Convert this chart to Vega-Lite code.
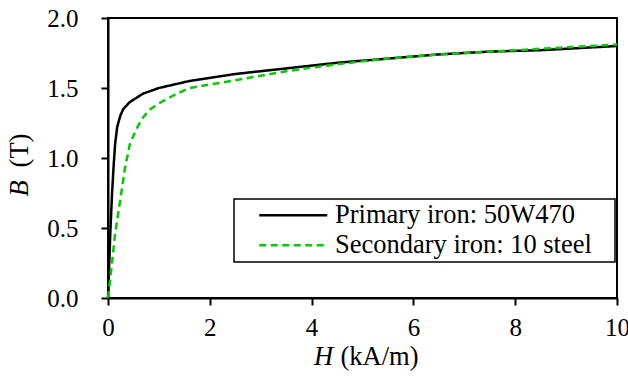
{
  "$schema": "https://vega.github.io/schema/vega-lite/v6.json",
  "width": 509,
  "height": 280,
  "autosize": {"type": "none"},
  "padding": {"left": 108, "top": 18, "right": 11, "bottom": 79},
  "background": "white",
  "config": {
    "view": {"stroke": "black", "strokeWidth": 2},
    "font": "Times New Roman",
    "axis": {
      "domainColor": "black",
      "domainWidth": 2,
      "tickColor": "black",
      "tickWidth": 2,
      "tickSize": 7,
      "grid": false,
      "labelFlush": false,
      "labelOverlap": false,
      "labelFont": "Times New Roman",
      "labelFontSize": 25,
      "labelColor": "black",
      "titleFont": "Times New Roman",
      "titleFontSize": 26.5,
      "titleFontWeight": "normal",
      "titleColor": "black"
    },
    "legend": {
      "labelFont": "Times New Roman",
      "labelFontSize": 26.5,
      "labelColor": "black",
      "labelLimit": 500
    }
  },
  "data": {
    "values": [
      {"series": "Primary iron: 50W470", "H": 0, "B": 0},
      {"series": "Primary iron: 50W470", "H": 0.02, "B": 0.2},
      {"series": "Primary iron: 50W470", "H": 0.045, "B": 0.46},
      {"series": "Primary iron: 50W470", "H": 0.08, "B": 0.75},
      {"series": "Primary iron: 50W470", "H": 0.11, "B": 0.94},
      {"series": "Primary iron: 50W470", "H": 0.14, "B": 1.1},
      {"series": "Primary iron: 50W470", "H": 0.18, "B": 1.22},
      {"series": "Primary iron: 50W470", "H": 0.24, "B": 1.3},
      {"series": "Primary iron: 50W470", "H": 0.3, "B": 1.35},
      {"series": "Primary iron: 50W470", "H": 0.43, "B": 1.4},
      {"series": "Primary iron: 50W470", "H": 0.69, "B": 1.46},
      {"series": "Primary iron: 50W470", "H": 1.0, "B": 1.5},
      {"series": "Primary iron: 50W470", "H": 1.6, "B": 1.55},
      {"series": "Primary iron: 50W470", "H": 2.5, "B": 1.6},
      {"series": "Primary iron: 50W470", "H": 3.5, "B": 1.64},
      {"series": "Primary iron: 50W470", "H": 4.5, "B": 1.68},
      {"series": "Primary iron: 50W470", "H": 5.5, "B": 1.71},
      {"series": "Primary iron: 50W470", "H": 6.5, "B": 1.74},
      {"series": "Primary iron: 50W470", "H": 7.5, "B": 1.76},
      {"series": "Primary iron: 50W470", "H": 8.5, "B": 1.77},
      {"series": "Primary iron: 50W470", "H": 10, "B": 1.8},
      {"series": "Secondary iron: 10 steel", "H": 0, "B": 0},
      {"series": "Secondary iron: 10 steel", "H": 0.07, "B": 0.22},
      {"series": "Secondary iron: 10 steel", "H": 0.14, "B": 0.46},
      {"series": "Secondary iron: 10 steel", "H": 0.24, "B": 0.7},
      {"series": "Secondary iron: 10 steel", "H": 0.33, "B": 0.92},
      {"series": "Secondary iron: 10 steel", "H": 0.43, "B": 1.1},
      {"series": "Secondary iron: 10 steel", "H": 0.55, "B": 1.2},
      {"series": "Secondary iron: 10 steel", "H": 0.65, "B": 1.27},
      {"series": "Secondary iron: 10 steel", "H": 0.8, "B": 1.34},
      {"series": "Secondary iron: 10 steel", "H": 1.0, "B": 1.39},
      {"series": "Secondary iron: 10 steel", "H": 1.3, "B": 1.45},
      {"series": "Secondary iron: 10 steel", "H": 1.6, "B": 1.5},
      {"series": "Secondary iron: 10 steel", "H": 2.5, "B": 1.555},
      {"series": "Secondary iron: 10 steel", "H": 3.5, "B": 1.62},
      {"series": "Secondary iron: 10 steel", "H": 4.5, "B": 1.67},
      {"series": "Secondary iron: 10 steel", "H": 5.5, "B": 1.71},
      {"series": "Secondary iron: 10 steel", "H": 6.5, "B": 1.74},
      {"series": "Secondary iron: 10 steel", "H": 7.5, "B": 1.76},
      {"series": "Secondary iron: 10 steel", "H": 8.5, "B": 1.78},
      {"series": "Secondary iron: 10 steel", "H": 10, "B": 1.81}
    ]
  },
  "layer": [
    {
      "mark": {"type": "line", "strokeOpacity": 0},
      "encoding": {
        "x": {
          "field": "H", "type": "quantitative",
          "scale": {"domain": [0, 10], "nice": false, "zero": false},
          "axis": {
            "orient": "bottom", "title": "H", "titleFontStyle": "italic",
            "labels": false, "ticks": false, "domain": false,
            "titleX": 215, "titleY": 66, "titleAlign": "center", "titleBaseline": "alphabetic",
            "encode": {"title": {"update": {"font": {"value": "Times New Roman"}, "fontStyle": {"value": "italic"}}}}
          }
        },
        "y": {
          "field": "B", "type": "quantitative",
          "scale": {"domain": [0, 2], "nice": false, "zero": false},
          "axis": {
            "orient": "left", "title": "B", "titleFontStyle": "italic",
            "labels": false, "ticks": false, "domain": false,
            "titleX": -81, "titleY": 170, "titleAngle": 270, "titleAlign": "center", "titleBaseline": "alphabetic",
            "encode": {"title": {"update": {"font": {"value": "Times New Roman"}, "fontStyle": {"value": "italic"}}}}
          }
        },
        "detail": {"field": "series"}
      }
    },
    {
      "mark": {"type": "line", "strokeWidth": 2.5},
      "encoding": {
        "x": {
          "field": "H", "type": "quantitative",
          "scale": {"domain": [0, 10], "nice": false, "zero": false},
          "axis": {
            "orient": "bottom", "title": "(kA/m)", "values": [0, 2, 4, 6, 8, 10], "format": "d",
            "labelFlush": false,
            "labelPadding": 10,
            "titleX": 271, "titleY": 66, "titleAlign": "center", "titleBaseline": "alphabetic",
            "encode": {
              "labels": {"update": {"font": {"value": "Times New Roman"}}},
              "title": {"update": {"font": {"value": "Times New Roman"}}}
            }
          }
        },
        "y": {
          "field": "B", "type": "quantitative",
          "scale": {"domain": [0, 2], "nice": false, "zero": false},
          "axis": {
            "orient": "left", "title": "(T)", "values": [0, 0.5, 1, 1.5, 2], "format": ".1f",
            "labelFlush": false,
            "labelPadding": 23,
            "titleX": -81, "titleY": 132, "titleAngle": 270, "titleAlign": "center", "titleBaseline": "alphabetic",
            "encode": {
              "labels": {"update": {"font": {"value": "Times New Roman"}}},
              "title": {"update": {"font": {"value": "Times New Roman"}}}
            }
          }
        },
        "color": {
          "field": "series", "type": "nominal",
          "scale": {"range": ["#000000", "#00cc00"]},
          "legend": {
            "title": null,
            "orient": "none",
            "legendX": 126,
            "legendY": 181,
            "padding": 3,
            "rowPadding": 3,
            "strokeColor": "black",
            "fillColor": "white",
            "symbolType": "M-3.4,0H3.4",
            "symbolSize": 400,
            "symbolStrokeWidth": 2.5,
            "symbolOffset": 43,
            "labelOffset": 28.5,
            "labelLimit": 500,
            "labelExpr": "datum.label + '\u2800'",
            "encode": {"legend": {"update": {"strokeWidth": {"value": 1.5}}}}
          }
        },
        "strokeDash": {
          "field": "series", "type": "nominal",
          "scale": {"range": [[1, 0], [7, 4.5]]},
          "legend": {
            "title": null,
            "orient": "none",
            "legendX": 126,
            "legendY": 181,
            "padding": 3,
            "rowPadding": 3,
            "strokeColor": "black",
            "fillColor": "white",
            "symbolType": "M-3.4,0H3.4",
            "symbolSize": 400,
            "symbolStrokeWidth": 2.5,
            "symbolOffset": 43,
            "labelOffset": 28.5,
            "labelLimit": 500,
            "labelExpr": "datum.label + '\u2800'",
            "encode": {"legend": {"update": {"strokeWidth": {"value": 1.5}}}}
          }
        }
      }
    }
  ],
  "resolve": {"axis": {"x": "independent", "y": "independent"}}
}
